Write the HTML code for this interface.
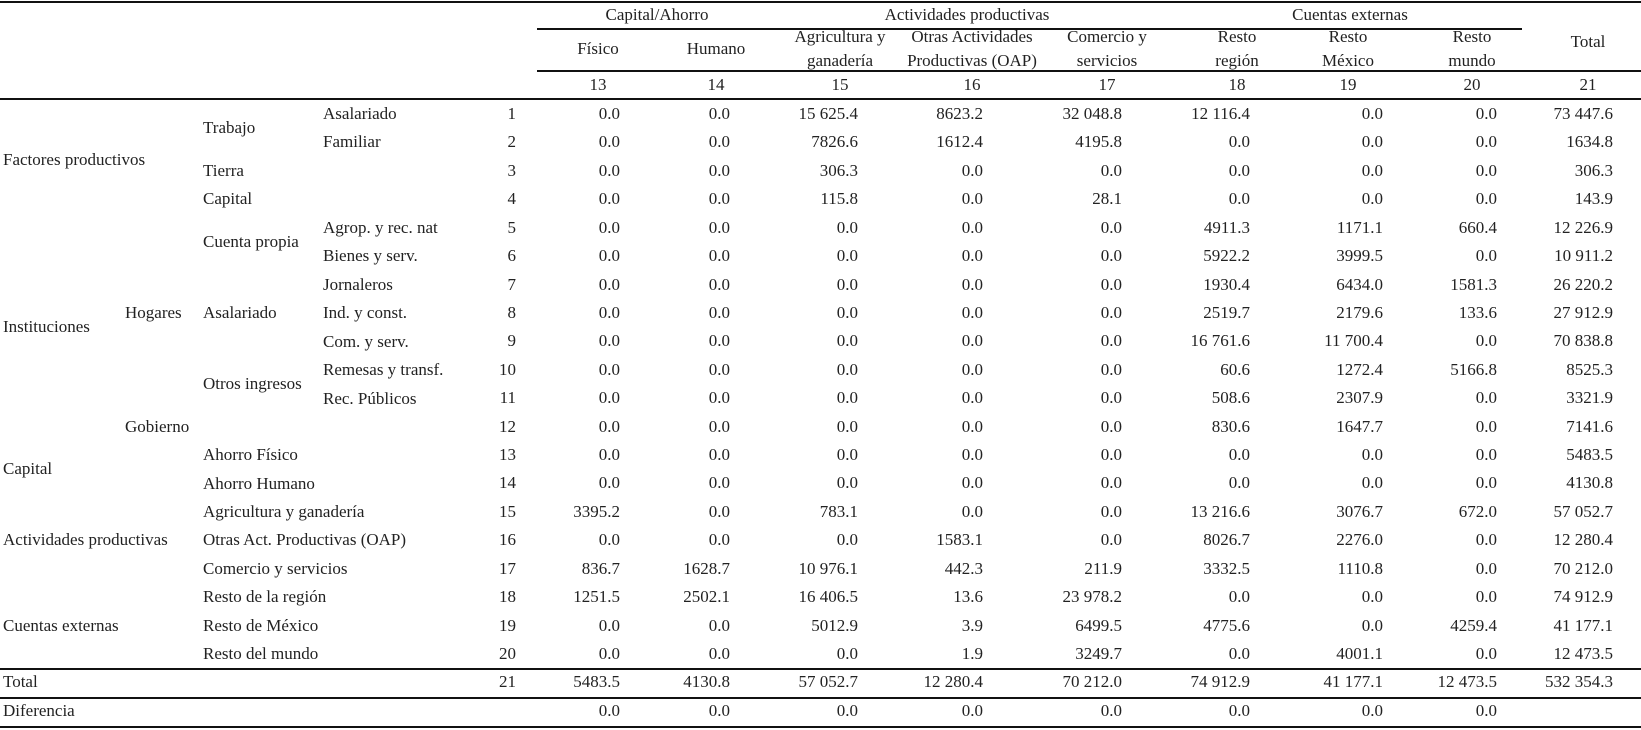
<!DOCTYPE html>
<html><head><meta charset="utf-8">
<style>
html,body{margin:0;padding:0;background:#fff;}
#t{position:relative;width:1641px;height:730px;overflow:hidden;font-family:"Liberation Serif",serif;font-size:17px;color:#222;}
.tx{position:absolute;line-height:20px;white-space:nowrap;}
.r{text-align:right;}
.c{text-align:center;transform:translateX(-50%);}
.ln{position:absolute;height:1.5px;background:#111;}
</style></head>
<body>
<div id="t">
  <div class="ln" style="left:0;top:1px;width:1641px"></div>
  <div class="ln" style="left:537px;top:28px;width:985px"></div>
  <div class="ln" style="left:537px;top:70px;width:1104px"></div>
  <div class="ln" style="left:0;top:98px;width:1641px"></div>
  <div class="ln" style="left:0;top:668px;width:1641px"></div>
  <div class="ln" style="left:0;top:697px;width:1641px"></div>
  <div class="ln" style="left:0;top:726px;width:1641px"></div>
</div>
<script>
const colNums=[13,14,15,16,17,18,19,20,21];
const colHead=[["Físico"],["Humano"],["Agricultura y","ganadería"],["Otras Actividades","Productivas (OAP)"],["Comercio y","servicios"],["Resto","región"],["Resto","México"],["Resto","mundo"],["Total"]];
const groups=[["Capital/Ahorro",657],["Actividades productivas",967],["Cuentas externas",1350]];
const rowNums=[1,2,3,4,5,6,7,8,9,10,11,12,13,14,15,16,17,18,19,20];
const r1=[0,0,15625.4,8623.2,32048.8,12116.4,0,0,73447.6];
const r2=[0,0,7826.6,1612.4,4195.8,0,0,0,1634.8];
const r3=[0,0,306.3,0,0,0,0,0,306.3];
const r4=[0,0,115.8,0,28.1,0,0,0,143.9];
const r5=[0,0,0,0,0,4911.3,1171.1,660.4,12226.9];
const r6=[0,0,0,0,0,5922.2,3999.5,0,10911.2];
const r7=[0,0,0,0,0,1930.4,6434.0,1581.3,26220.2];
const r8=[0,0,0,0,0,2519.7,2179.6,133.6,27912.9];
const r9=[0,0,0,0,0,16761.6,11700.4,0,70838.8];
const r10=[0,0,0,0,0,60.6,1272.4,5166.8,8525.3];
const r11=[0,0,0,0,0,508.6,2307.9,0,3321.9];
const r12=[0,0,0,0,0,830.6,1647.7,0,7141.6];
const r13=[0,0,0,0,0,0,0,0,5483.5];
const r14=[0,0,0,0,0,0,0,0,4130.8];
const r15=[3395.2,0,783.1,0,0,13216.6,3076.7,672.0,57052.7];
const r16=[0,0,0,1583.1,0,8026.7,2276.0,0,12280.4];
const r17=[836.7,1628.7,10976.1,442.3,211.9,3332.5,1110.8,0,70212.0];
const r18=[1251.5,2502.1,16406.5,13.6,23978.2,0,0,0,74912.9];
const r19=[0,0,5012.9,3.9,6499.5,4775.6,0,4259.4,41177.1];
const r20=[0,0,0,1.9,3249.7,0,4001.1,0,12473.5];
const totalRow=[5483.5,4130.8,57052.7,12280.4,70212.0,74912.9,41177.1,12473.5,532354.3];
const diffRow=[0,0,0,0,0,0,0,0];
const rows=[r1,r2,r3,r4,r5,r6,r7,r8,r9,r10,r11,r12,r13,r14,r15,r16,r17,r18,r19,r20];
const labels=[["Factores productivos",0,161],["Trabajo",200,129],["Asalariado",320,115],["Familiar",320,143],["Tierra",200,172],["Capital",200,200],
["Cuenta propia",200,243],["Agrop. y rec. nat",320,229],["Bienes y serv.",320,257],["Jornaleros",320,286],["Instituciones",0,328],["Hogares",122,314],["Asalariado",200,314],["Ind. y const.",320,314],["Com. y serv.",320,343],
["Otros ingresos",200,385],["Remesas y transf.",320,371],["Rec. Públicos",320,400],["Gobierno",122,428],["Capital",0,470],["Ahorro Físico",200,456],["Ahorro Humano",200,485],
["Actividades productivas",0,541],["Agricultura y ganadería",200,513],["Otras Act. Productivas (OAP)",200,541],["Comercio y servicios",200,570],
["Cuentas externas",0,627],["Resto de la región",200,598],["Resto de México",200,627],["Resto del mundo",200,655],["Total",0,683],["Diferencia",0,712]];

const T=document.getElementById('t');
const colRight=[620,730,858,983,1122,1250,1383,1497,1613];
const colCenter=[598,716,840,972,1107,1237,1348,1472,1588];
function rowY(i){return 115+i*28.42;}
function fmt(v){let s=v.toFixed(1);let [a,b]=s.split('.');if(a.length>=5){a=a.replace(/\B(?=(\d{3})+(?!\d))/g,' ');}return a+'.'+b;}
function add(text,cls,x,y){const d=document.createElement('div');d.className='tx '+cls;d.textContent=text;
 if(cls==='r'){d.style.right=(1641-x)+'px';}else{d.style.left=x+'px';}
 d.style.top=(y-11)+'px';T.appendChild(d);return d;}
groups.forEach(g=>{const d=add(g[0],'c',g[1],16);

});
colHead.forEach((h,i)=>{
 if(h.length===1){const d=add(h[0],'c',colCenter[i],h[0]==='Total'?43:50);
 
 }
 else{h.forEach((t,k)=>{const d=add(t,'c',colCenter[i],k?62:38);
 
 });}
 const n=add(String(colNums[i]),'c',colCenter[i],86);
 
 
});
labels.forEach(l=>{const d=add(l[0],'',l[1]+3,l[2]);

});
rows.forEach((r,i)=>{const y=rowY(i);
 const n=add(String(rowNums[i]),'r',516,y);
 
 
 r.forEach((v,j)=>{const d=add(fmt(v),'r',colRight[j],y);
 
 });
});
const tn=add('21','r',516,683);


totalRow.forEach((v,j)=>{const d=add(fmt(v),'r',colRight[j],683);

});
diffRow.forEach((v,j)=>{const d=add(fmt(v),'r',colRight[j],712);

});
</script>
</body></html>
